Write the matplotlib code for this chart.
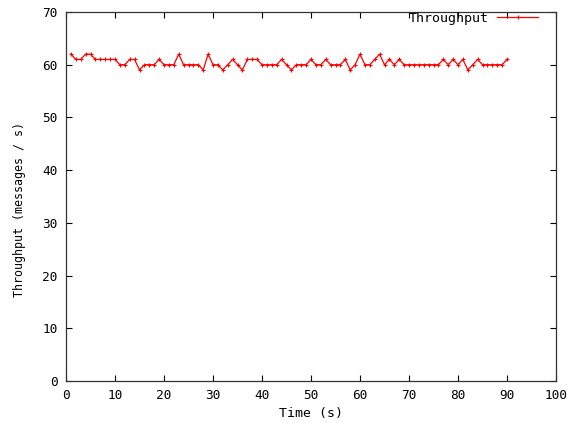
import matplotlib
matplotlib.use("Agg")
import matplotlib.pyplot as plt

time_s = list(range(1, 91))
throughput = [
    62, 61, 61, 62, 62, 61, 61, 61, 61, 61, 60, 60, 61, 61, 59,
    60, 60, 60, 61, 60, 60, 60, 62, 60, 60, 60, 60, 59, 62, 60,
    60, 59, 60, 61, 60, 59, 61, 61, 61, 60, 60, 60, 60, 61, 60,
    59, 60, 60, 60, 61, 60, 60, 61, 60, 60, 60, 61, 59, 60, 62,
    60, 60, 61, 62, 60, 61, 60, 61, 60, 60, 60, 60, 60, 60, 60,
    60, 61, 60, 61, 60, 61, 59, 60, 61, 60, 60, 60, 60, 60, 61,
]
x_ticks = list(range(0, 101, 10))
y_ticks = list(range(0, 71, 10))

plt.rcParams['font.family'] = ['DejaVu Sans Mono']
fig = plt.figure(figsize=(5.75, 4.23), dpi=100)
ax = fig.add_axes([66/575, 1-381/423, 490/575, 369/423])

ax.plot(time_s, throughput, color='#ff0000', linewidth=0.9, marker='+',
        markersize=3, markeredgewidth=0.8, label='Throughput')

ax.set_xlim(0, 100)
ax.set_ylim(0, 70)
ax.set_xticks(x_ticks)
ax.set_yticks(y_ticks)
ax.tick_params(direction='in', length=4, width=0.8, top=True, right=True,
               labelsize=9.2, pad=6)
for s in ax.spines.values():
    s.set_linewidth(0.9)
    s.set_color('#333333')

ax.set_xlabel('Time (s)', fontsize=9.5, labelpad=3)
ax.set_ylabel('Throughput (messages / s)', fontsize=8.4)
ax.yaxis.set_label_coords(-40/490, 0.465)

leg = ax.legend(loc='upper right', bbox_to_anchor=(538/575, 1-12/423),
                bbox_transform=fig.transFigure, frameon=False,
                markerfirst=False, fontsize=9.5, handlelength=3.1,
                borderaxespad=0.0, borderpad=0.0, handletextpad=0.6)

fig.savefig('out.png', dpi=100)
